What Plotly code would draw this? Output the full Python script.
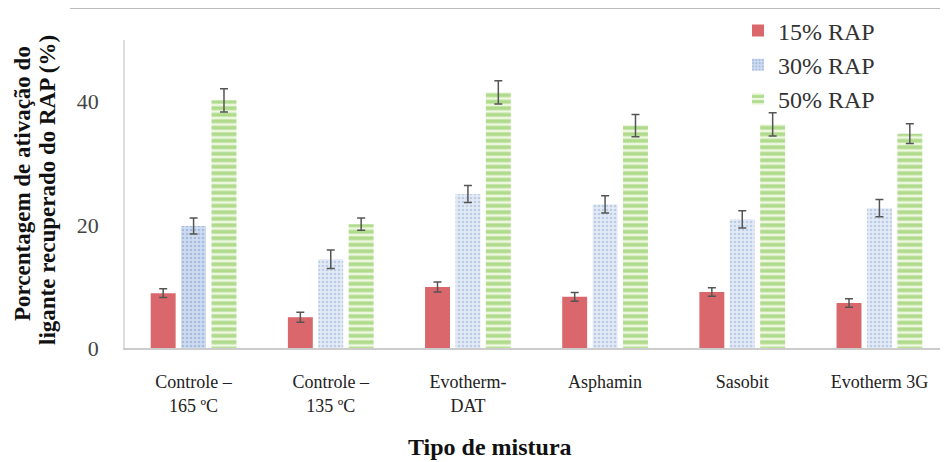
import plotly.graph_objects as go

categories = ["Controle –<br>165 ºC", "Controle –<br>135 ºC", "Evotherm-<br>DAT", "Asphamin", "Sasobit", "Evotherm 3G"]
series_names = ["15% RAP", "30% RAP", "50% RAP"]
rap15 = [8.9, 5.0, 9.9, 8.3, 9.1, 7.3]
rap15_err = [0.7, 0.8, 0.8, 0.7, 0.7, 0.7]
rap30 = [19.8, 14.4, 25.0, 23.3, 20.9, 22.7]
rap30_err = [1.3, 1.5, 1.4, 1.4, 1.4, 1.4]
rap50 = [40.2, 20.1, 41.5, 36.1, 36.3, 34.8]
rap50_err = [1.9, 1.0, 1.9, 1.8, 1.9, 1.6]
y_ticks = [0, 20, 40]

FONT = "Liberation Serif"
err_style = dict(type="data", visible=True, color="#555555", thickness=1.5, width=4)

# page body has an 8px margin: figure is drawn 8px lower/right, so size it to fit
W, H = 940, 454
L, T, B = 117, 32, 114
PW = W - L
PH = H - T - B


def px(xs):
    return (xs - 8 - L) / PW


def py(ys):
    return (H - B - (ys - 8)) / PH


blue_fg = ["#7b9ad0"] + ["#93aed8"] * 5
blue_bg = ["#cfdcf0"] + ["#e3eaf5"] * 5

fig = go.Figure()
fig.add_trace(go.Bar(
    x=categories, y=rap15, name=series_names[0],
    marker=dict(color="#d9676b", line=dict(width=0)),
    error_y=dict(array=rap15_err, **err_style),
))
fig.add_trace(go.Bar(
    x=categories, y=rap30, name=series_names[1],
    marker=dict(color="#dbe5f3", line=dict(width=0),
                pattern=dict(shape=".", fgcolor=blue_fg, bgcolor=blue_bg, size=4, solidity=0.35)),
    error_y=dict(array=rap30_err, **err_style),
))
fig.add_trace(go.Bar(
    x=categories, y=rap50, name=series_names[2],
    marker=dict(color="#e6f3d6", line=dict(width=0),
                pattern=dict(shape="-", fgcolor="#72bd38", bgcolor="#eef8e2", size=6.5, solidity=0.6)),
    error_y=dict(array=rap50_err, **err_style),
))

fig.update_layout(
    width=W, height=H,
    margin=dict(l=L, r=0, t=T, b=B, pad=0),
    plot_bgcolor="white", paper_bgcolor="white",
    barmode="group", bargap=0.335, bargroupgap=0.18,
    font=dict(family=FONT, color="#333333"),
    showlegend=True,
    legend=dict(x=px(738), y=py(8.5), xanchor="left", yanchor="top",
                font=dict(family=FONT, size=24, color="#333333"),
                bgcolor="rgba(255,255,255,0)", tracegroupgap=0, itemwidth=30),
    xaxis=dict(showline=True, linecolor="#cccccc", linewidth=1.5, ticks="",
               tickfont=dict(family=FONT, size=18, color="#222222"),
               ticklabelstandoff=17,
               showgrid=False, range=[-0.5, 5.5]),
    yaxis=dict(showline=True, linecolor="#dddddd", linewidth=1.5, ticks="",
               range=[0, 50], tickvals=y_ticks, showgrid=False, zeroline=False,
               tickfont=dict(family=FONT, size=22, color="#444444"), ticklabelstandoff=20),
    annotations=[
        dict(text="<b>Tipo de mistura</b>", xref="paper", yref="paper",
             x=px(490), y=py(447), xanchor="center", yanchor="middle",
             showarrow=False, font=dict(family=FONT, size=24, color="#111111")),
        dict(text="<b>Porcentagem de ativação do</b>",
             xref="paper", yref="paper", x=px(22), y=py(183),
             xanchor="center", yanchor="middle", textangle=-90, showarrow=False,
             font=dict(family=FONT, size=23, color="#111111")),
        dict(text="<b>ligante recuperado do RAP (%)</b>",
             xref="paper", yref="paper", x=px(47), y=py(190),
             xanchor="center", yanchor="middle", textangle=-90, showarrow=False,
             font=dict(family=FONT, size=23, color="#111111")),
    ],
    shapes=[dict(type="line", xref="paper", yref="paper", x0=px(70), x1=1,
                 y0=py(8.5), y1=py(8.5), line=dict(color="#bbbbbb", width=1))],
)

fig.write_html("out.html")
